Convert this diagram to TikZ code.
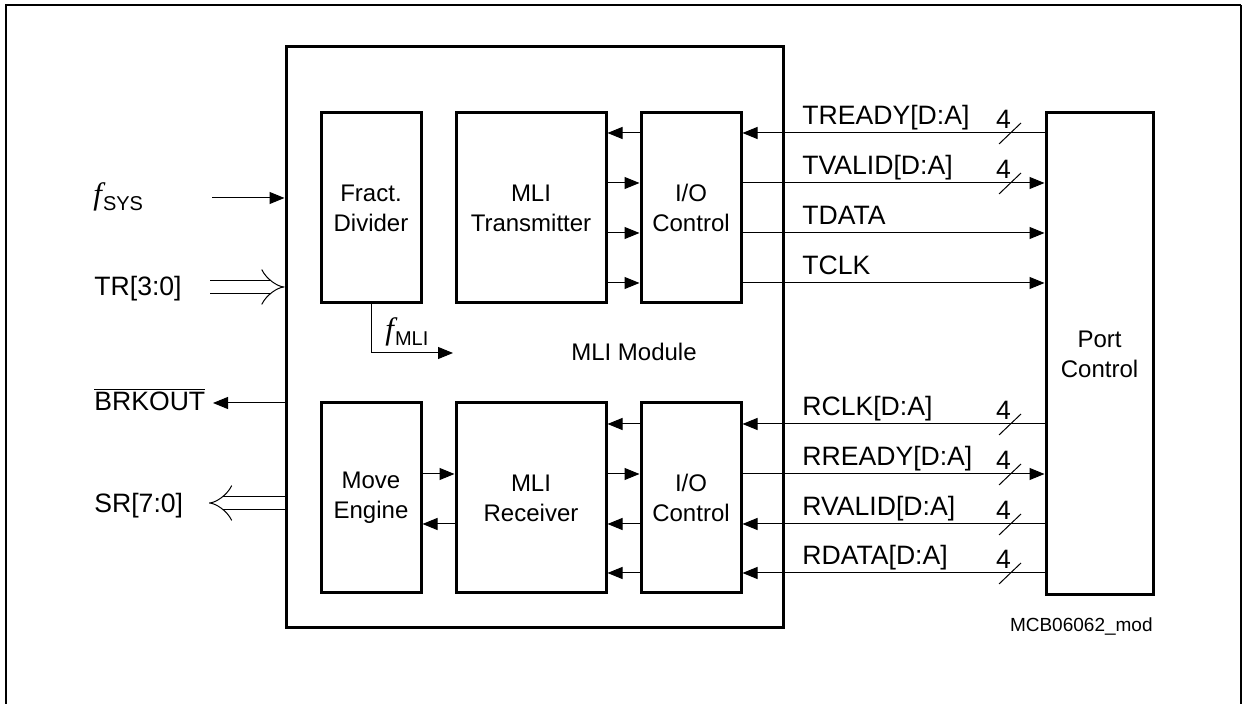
\documentclass[tikz,border=0pt]{standalone}
\usepackage{fontspec}
\setmainfont{Liberation Sans}
\newfontfamily\serfont{Liberation Serif}
\usetikzlibrary{calc,arrows.meta}
\newcommand{\freq}[1]{{\serfont\itshape\fontsize{15.5}{16}\selectfont f}\kern0.5pt\raisebox{-3pt}{\fontsize{10}{10}\selectfont #1}}
\tikzset{
  blk/.style={ % image of a functional block
    draw, rectangle, line width=1.5pt,
    minimum width=50pt, minimum height=95pt,
    inner sep=0pt, align=center,
    font=\fontsize{12}{15}\selectfont
  },
  sig/.style={ % image of a single signal
    line width=0.5pt, -{Triangle[length=7.5pt,width=6pt]}
  },
  bus/.style={ % image of a wide (double) signal
    line width=0.5pt, double, double distance=6pt, -{Implies}
  },
  lbl/.style={ % signal name
    inner sep=0pt, font=\fontsize{13.3}{16}\selectfont
  }
}

\begin{document}
\begin{tikzpicture}[x=0.5pt, y=-0.5pt]
  \useasboundingbox (0,0) rectangle (1242,704);
  % frame
  \draw[line width=1pt] (6,704) -- (6,5) -- (1241,5);
  \draw[line width=0.6pt] (1241,5) -- (1241,704);

  \node[draw, line width=1.5pt, minimum width=248.5pt, minimum height=290.5pt] (mli) at (534.5,337.5) {};
  \node[blk] (frac) at (371,208) {Fract.\\Divider};
  \node[blk, minimum width=75pt] (mtx) at (531,208) {MLI\\Transmitter};
  \node[blk] (iot) at (691,208) {I/O\\Control};
  \node[blk] (move) at (371,498) {Move\\Engine};
  \node[blk, minimum width=75pt] (mrx) at (531,498) {MLI\\Receiver};
  \node[blk] (iob) at (691,498) {I/O\\Control};
  \node[blk, minimum width=53.5pt, minimum height=241pt] (pc) at (1099.5,354) {Port\\Control};
  \node[font=\fontsize{12}{15}\selectfont] (mli_text) at (634,352) {MLI Module};
  \node[inner sep=0pt, anchor=base east, font=\fontsize{9.5}{11}\selectfont] (fig_id) at (1153,632) {MCB06062\_mod};

  % left side
  \node[lbl, anchor=base west] (fsys) at (93,205) {\freq{SYS}};
  \node[lbl, anchor=base west] (tr) at (94,296) {TR[3:0]};
  \node[lbl, anchor=base west] (brk) at (94,411) {$\overline{\mbox{BRKOUT}}$};
  \node[lbl, anchor=base west] (sr) at (94,513) {SR[7:0]};
  \coordinate (fsys_in) at (212,198);
  \coordinate (tr_in) at (210,287);
  \coordinate (brk_out) at (213,403);
  \coordinate (sr_out) at (209,503);
  \draw[sig] (fsys_in) -- (fsys_in -| mli.west);
  \draw[bus] (tr_in) -- (tr_in -| mli.west);
  \draw[sig] (mli.west |- brk_out) -- (brk_out);
  \draw[bus] (mli.west |- sr_out) -- (sr_out);

  % divided clock
  \coordinate (fmli_out) at (453,353);
  \draw[sig] (frac.south) -- (frac.south |- fmli_out) -- (fmli_out);
  \node[lbl, anchor=base west] (fmli) at (385,340) {\freq{MLI}};

  % transmitter side
  \draw[sig] (iot.west |- 0,133) -- (mtx.east |- 0,133);
  \foreach \yy in {183,233,283}
    \draw[sig] (mtx.east |- 0,\yy) -- (iot.west |- 0,\yy);
  \draw[sig] (pc.west |- 0,133) -- (iot.east |- 0,133);
  \foreach \yy in {183,233,283}
    \draw[sig] (iot.east |- 0,\yy) -- (pc.west |- 0,\yy);

  % receiver side
  \foreach \yy in {424,524,573}
    \draw[sig] (iob.west |- 0,\yy) -- (mrx.east |- 0,\yy);
  \draw[sig] (mrx.east |- 0,474) -- (iob.west |- 0,474);
  \draw[sig] (move.east |- 0,474) -- (mrx.west |- 0,474);
  \draw[sig] (mrx.west |- 0,524) -- (move.east |- 0,524);
  \foreach \yy in {424,524,573}
    \draw[sig] (pc.west |- 0,\yy) -- (iob.east |- 0,\yy);
  \draw[sig] (iob.east |- 0,474) -- (pc.west |- 0,474);

  % signal names
  \foreach \yy/\txt in {133/TREADY[D:A],183/TVALID[D:A],233/TDATA,283/TCLK,
                        424/RCLK[D:A],474/RREADY[D:A],524/RVALID[D:A],573/RDATA[D:A]}
    \node[lbl, anchor=base west] at (802,\yy-8) {\txt};

  % bus widths
  \foreach \yy in {133,183,424,474,524,573}{
    \draw[line width=0.5pt] (999,\yy+11) -- (1021,\yy-10);
    \node[lbl, anchor=base] at (1003.5,\yy-4) {4};
  }
\end{tikzpicture}
\end{document}
